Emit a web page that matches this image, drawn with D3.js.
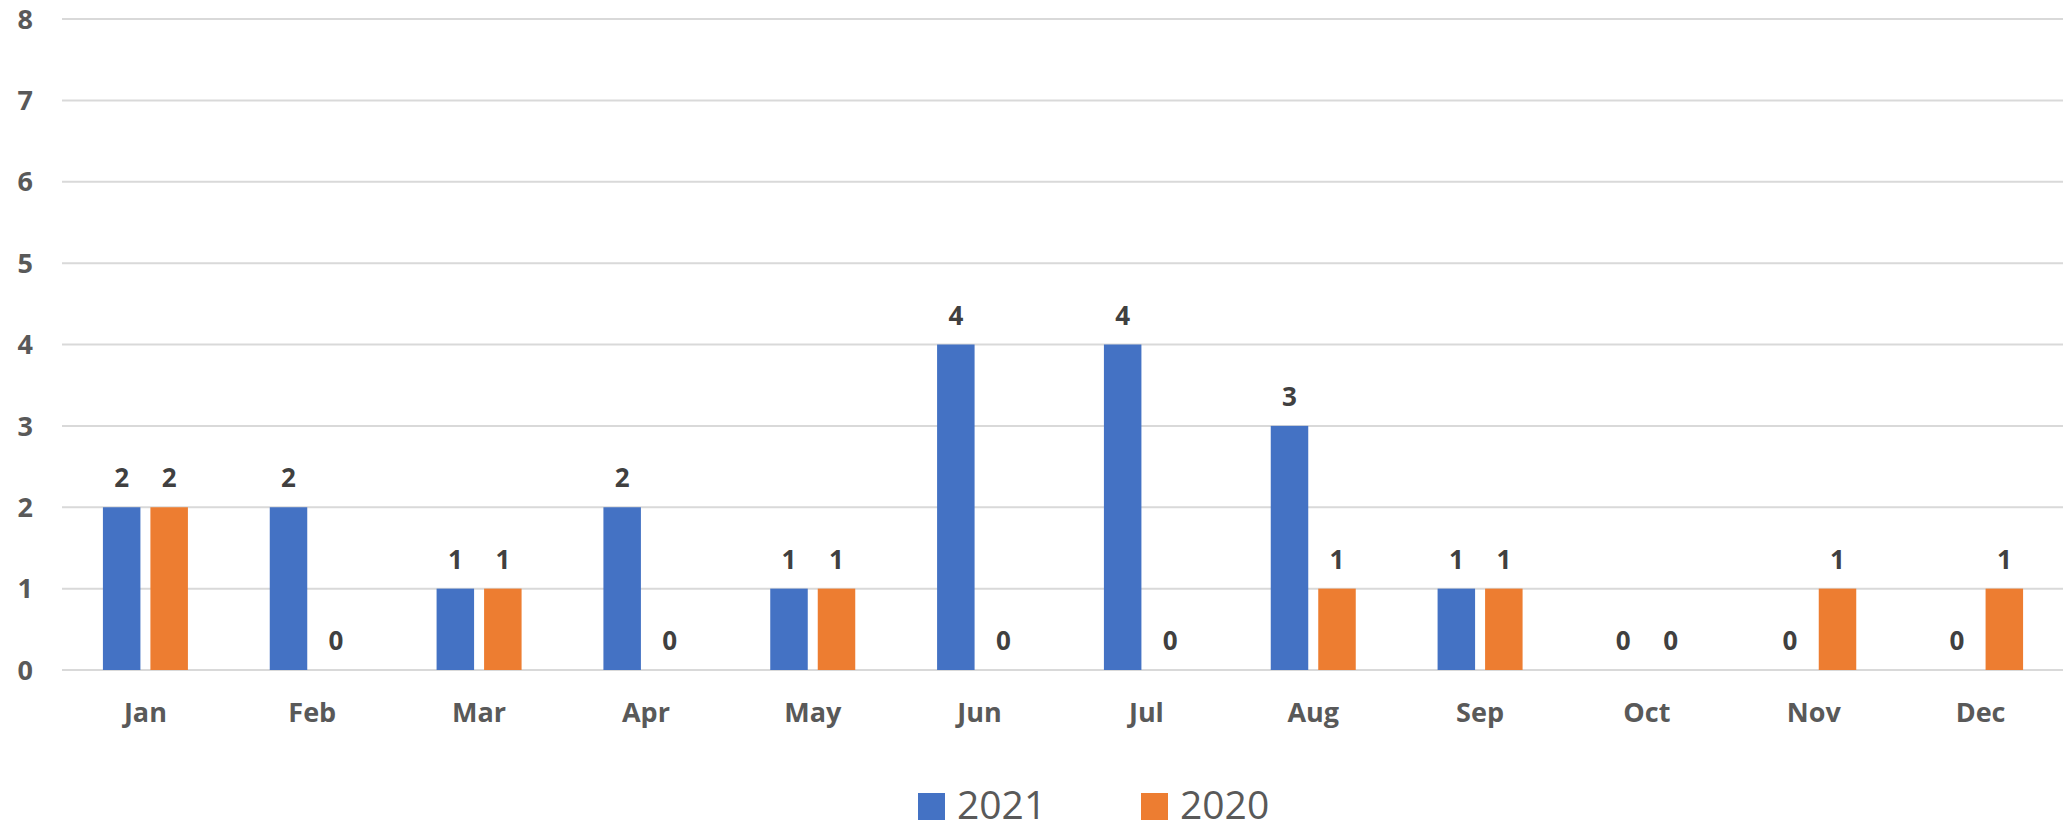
<!DOCTYPE html>
<html>
<head>
<meta charset="utf-8">
<script src="https://cdn.jsdelivr.net/npm/d3@7"></script>
<style>
  html, body { margin: 0; padding: 0; background: #fff; }
  svg { display: block; }
</style>
</head>
<body>
<svg id="chart" width="2068" height="830"></svg>
<script>
const months = ["Jan","Feb","Mar","Apr","May","Jun","Jul","Aug","Sep","Oct","Nov","Dec"];
const series2021 = [2,2,1,2,1,4,4,3,1,0,0,0];
const series2020 = [2,0,1,0,1,0,0,1,1,0,1,1];
const seriesNames = ["2021","2020"];
const seriesColors = ["#4472C4","#ED7D31"];
const yTicks = [0,1,2,3,4,5,6,7,8];

(function () {
const svg = d3.select("#chart");
const plotLeft = 62, plotRight = 2064, plotTop = 19, plotBottom = 670;

const x0 = d3.scaleBand().domain(months).range([plotLeft, plotRight]).padding(0);
const x1 = d3.scaleBand().domain(seriesNames).range([0, 85]).paddingInner(0.2105);
const y = d3.scaleLinear().domain([0, 8]).range([plotBottom, plotTop]);

// gridlines
svg.append("g").selectAll("line").data(yTicks).join("line")
  .attr("x1", plotLeft).attr("x2", plotRight - 1)
  .attr("y1", d => y(d)).attr("y2", d => y(d))
  .attr("stroke", "#d9d9d9").attr("stroke-width", 2);

// y tick labels
svg.append("g").selectAll("text").data(yTicks).join("text")
  .attr("x", 33).attr("y", d => y(d))
  .attr("dy", "0.36em")
  .attr("text-anchor", "end")
  .attr("font-family", "Open Sans")
  .attr("font-weight", "bold")
  .attr("font-size", 27)
  .attr("fill", "#595959")
  .text(d => d);

const data = months.map((m, i) => ({ month: m, values: [series2021[i], series2020[i]] }));

const groups = svg.append("g").selectAll("g").data(data).join("g")
  .attr("transform", d => `translate(${x0(d.month) + x0.bandwidth()/2 - 42.5},0)`);

groups.selectAll("rect").data(d => d.values.map((v, j) => ({ key: seriesNames[j], v, j })))
  .join("rect")
  .attr("x", d => x1(d.key))
  .attr("width", x1.bandwidth())
  .attr("y", d => y(d.v))
  .attr("height", d => y(0) - y(d.v))
  .attr("fill", d => seriesColors[d.j]);

groups.selectAll("text").data(d => d.values.map((v, j) => ({ key: seriesNames[j], v, j })))
  .join("text")
  .attr("x", d => x1(d.key) + x1.bandwidth()/2)
  .attr("y", d => y(d.v) - 20)
  .attr("text-anchor", "middle")
  .attr("font-family", "Open Sans")
  .attr("font-weight", "bold")
  .attr("font-size", 26)
  .attr("fill", "#404040")
  .text(d => d.v);

// x axis labels
svg.append("g").selectAll("text").data(months).join("text")
  .attr("x", d => x0(d) + x0.bandwidth()/2)
  .attr("y", 722)
  .attr("text-anchor", "middle")
  .attr("font-family", "Open Sans")
  .attr("font-weight", "bold")
  .attr("font-size", 27)
  .attr("fill", "#595959")
  .text(d => d);

// legend
const legendX = [918, 1141];
const legend = svg.append("g").selectAll("g").data(seriesNames).join("g")
  .attr("transform", (d, i) => `translate(${legendX[i]},0)`);
legend.append("rect")
  .attr("x", 0).attr("y", 793).attr("width", 27).attr("height", 27)
  .attr("fill", (d, i) => seriesColors[i]);
legend.append("text")
  .attr("x", 39).attr("y", 819)
  .attr("font-family", "Open Sans")
  .attr("font-size", 39)
  .attr("fill", "#595959")
  .text(d => d);
})();
</script>
</body>
</html>
